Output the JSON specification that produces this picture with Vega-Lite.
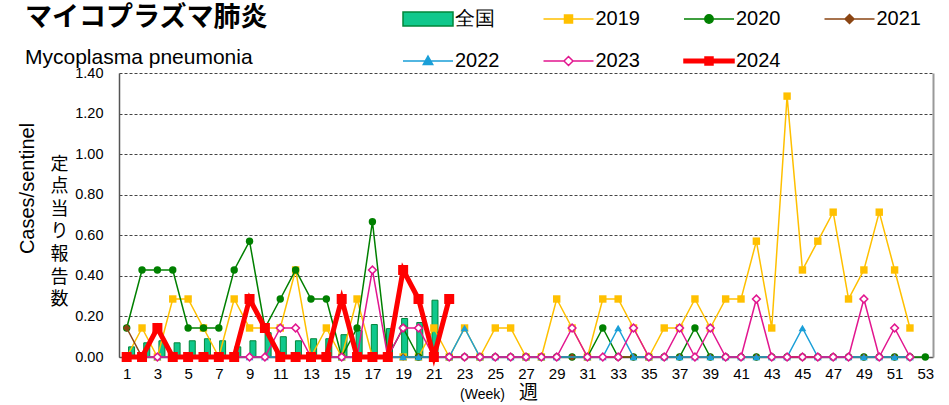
{
"$schema":"https://vega.github.io/schema/vega-lite/v6.json",
"width":814,"height":284,
"autosize":{"type":"none"},
"padding":{"left":119,"top":73,"right":16,"bottom":48},
"background":"white",
"config":{"view":{"stroke":null},"font":"Liberation Sans","axis":{"labelColor":"black","titleColor":"black","titleFontWeight":"normal"}},
"title":{"text":"マイコプラズマ肺炎","subtitle":"\u00a0Mycoplasma pneumonia","anchor":"start","frame":"group","dx":-94,"dy":67,"offset":6,"font":"Noto Sans CJK JP","fontSize":27,"fontWeight":"bold","color":"black","subtitleFont":"Liberation Sans","subtitleFontSize":21,"subtitleColor":"black","subtitlePadding":15},
"datasets":{
"series":[{"series":"全国"},{"series":"2019"},{"series":"2020"},{"series":"2021"},{"series":"2022"},{"series":"2023"},{"series":"2024"}],
"zenkoku":[{"week":1,"value":0.05},{"week":2,"value":0.07},{"week":3,"value":0.08},{"week":4,"value":0.07},{"week":5,"value":0.08},{"week":6,"value":0.09},{"week":7,"value":0.08},{"week":8,"value":0.05},{"week":9,"value":0.08},{"week":10,"value":0.12},{"week":11,"value":0.10},{"week":12,"value":0.08},{"week":13,"value":0.09},{"week":14,"value":0.09},{"week":15,"value":0.11},{"week":16,"value":0.13},{"week":17,"value":0.16},{"week":18,"value":0.14},{"week":19,"value":0.19},{"week":20,"value":0.17},{"week":21,"value":0.28}],
"y2019":[{"week":1,"value":0},{"week":2,"value":0.143},{"week":3,"value":0},{"week":4,"value":0.286},{"week":5,"value":0.286},{"week":6,"value":0.143},{"week":7,"value":0},{"week":8,"value":0.286},{"week":9,"value":0.143},{"week":10,"value":0.143},{"week":11,"value":0.143},{"week":12,"value":0.429},{"week":13,"value":0},{"week":14,"value":0.143},{"week":15,"value":0},{"week":16,"value":0.286},{"week":17,"value":0},{"week":18,"value":0},{"week":19,"value":0},{"week":20,"value":0},{"week":21,"value":0.143},{"week":22,"value":0},{"week":23,"value":0.143},{"week":24,"value":0},{"week":25,"value":0.143},{"week":26,"value":0.143},{"week":27,"value":0},{"week":28,"value":0},{"week":29,"value":0.286},{"week":30,"value":0.143},{"week":31,"value":0},{"week":32,"value":0.286},{"week":33,"value":0.286},{"week":34,"value":0.143},{"week":35,"value":0},{"week":36,"value":0.143},{"week":37,"value":0.143},{"week":38,"value":0.286},{"week":39,"value":0.143},{"week":40,"value":0.286},{"week":41,"value":0.286},{"week":42,"value":0.571},{"week":43,"value":0.143},{"week":44,"value":1.286},{"week":45,"value":0.429},{"week":46,"value":0.571},{"week":47,"value":0.714},{"week":48,"value":0.286},{"week":49,"value":0.429},{"week":50,"value":0.714},{"week":51,"value":0.429},{"week":52,"value":0.143}],
"y2020":[{"week":1,"value":0.143},{"week":2,"value":0.429},{"week":3,"value":0.429},{"week":4,"value":0.429},{"week":5,"value":0.143},{"week":6,"value":0.143},{"week":7,"value":0.143},{"week":8,"value":0.429},{"week":9,"value":0.571},{"week":10,"value":0.143},{"week":11,"value":0.286},{"week":12,"value":0.429},{"week":13,"value":0.286},{"week":14,"value":0.286},{"week":15,"value":0},{"week":16,"value":0.143},{"week":17,"value":0.667},{"week":18,"value":0},{"week":19,"value":0.143},{"week":20,"value":0},{"week":21,"value":0},{"week":22,"value":0},{"week":23,"value":0},{"week":24,"value":0},{"week":25,"value":0},{"week":26,"value":0},{"week":27,"value":0},{"week":28,"value":0},{"week":29,"value":0},{"week":30,"value":0},{"week":31,"value":0},{"week":32,"value":0.143},{"week":33,"value":0},{"week":34,"value":0},{"week":35,"value":0},{"week":36,"value":0},{"week":37,"value":0},{"week":38,"value":0.143},{"week":39,"value":0},{"week":40,"value":0},{"week":41,"value":0},{"week":42,"value":0},{"week":43,"value":0},{"week":44,"value":0},{"week":45,"value":0},{"week":46,"value":0},{"week":47,"value":0},{"week":48,"value":0},{"week":49,"value":0},{"week":50,"value":0},{"week":51,"value":0},{"week":52,"value":0},{"week":53,"value":0}],
"y2021":[{"week":1,"value":0.143},{"week":2,"value":0},{"week":3,"value":0},{"week":4,"value":0},{"week":5,"value":0},{"week":6,"value":0},{"week":7,"value":0},{"week":8,"value":0},{"week":9,"value":0},{"week":10,"value":0},{"week":11,"value":0},{"week":12,"value":0},{"week":13,"value":0},{"week":14,"value":0},{"week":15,"value":0},{"week":16,"value":0},{"week":17,"value":0},{"week":18,"value":0},{"week":19,"value":0},{"week":20,"value":0},{"week":21,"value":0},{"week":22,"value":0},{"week":23,"value":0},{"week":24,"value":0},{"week":25,"value":0},{"week":26,"value":0},{"week":27,"value":0},{"week":28,"value":0},{"week":29,"value":0},{"week":30,"value":0},{"week":31,"value":0},{"week":32,"value":0},{"week":33,"value":0},{"week":34,"value":0},{"week":35,"value":0},{"week":36,"value":0},{"week":37,"value":0},{"week":38,"value":0},{"week":39,"value":0},{"week":40,"value":0},{"week":41,"value":0},{"week":42,"value":0},{"week":43,"value":0},{"week":44,"value":0},{"week":45,"value":0},{"week":46,"value":0},{"week":47,"value":0},{"week":48,"value":0},{"week":49,"value":0},{"week":50,"value":0},{"week":51,"value":0},{"week":52,"value":0}],
"y2022":[{"week":1,"value":0},{"week":2,"value":0},{"week":3,"value":0},{"week":4,"value":0},{"week":5,"value":0},{"week":6,"value":0},{"week":7,"value":0},{"week":8,"value":0},{"week":9,"value":0},{"week":10,"value":0},{"week":11,"value":0},{"week":12,"value":0},{"week":13,"value":0},{"week":14,"value":0},{"week":15,"value":0},{"week":16,"value":0},{"week":17,"value":0},{"week":18,"value":0},{"week":19,"value":0},{"week":20,"value":0},{"week":21,"value":0},{"week":22,"value":0},{"week":23,"value":0.143},{"week":24,"value":0},{"week":25,"value":0},{"week":26,"value":0},{"week":27,"value":0},{"week":28,"value":0},{"week":29,"value":0},{"week":31,"value":0},{"week":32,"value":0},{"week":33,"value":0.143},{"week":34,"value":0},{"week":35,"value":0},{"week":36,"value":0},{"week":37,"value":0},{"week":38,"value":0},{"week":39,"value":0},{"week":40,"value":0},{"week":41,"value":0},{"week":42,"value":0},{"week":43,"value":0},{"week":44,"value":0},{"week":45,"value":0.143},{"week":46,"value":0},{"week":47,"value":0},{"week":48,"value":0},{"week":49,"value":0},{"week":50,"value":0},{"week":51,"value":0},{"week":52,"value":0}],
"y2023":[{"week":1,"value":0},{"week":2,"value":0},{"week":3,"value":0},{"week":4,"value":0},{"week":5,"value":0},{"week":6,"value":0},{"week":7,"value":0},{"week":8,"value":0},{"week":9,"value":0},{"week":10,"value":0},{"week":11,"value":0.143},{"week":12,"value":0.143},{"week":13,"value":0},{"week":14,"value":0},{"week":15,"value":0},{"week":16,"value":0},{"week":17,"value":0.429},{"week":18,"value":0},{"week":19,"value":0.143},{"week":20,"value":0.143},{"week":21,"value":0},{"week":22,"value":0},{"week":23,"value":0},{"week":24,"value":0},{"week":25,"value":0},{"week":26,"value":0},{"week":27,"value":0},{"week":28,"value":0},{"week":29,"value":0},{"week":30,"value":0.143},{"week":31,"value":0},{"week":32,"value":0},{"week":33,"value":0},{"week":34,"value":0.143},{"week":35,"value":0},{"week":36,"value":0},{"week":37,"value":0.143},{"week":38,"value":0},{"week":39,"value":0.143},{"week":40,"value":0},{"week":41,"value":0},{"week":42,"value":0.286},{"week":43,"value":0},{"week":44,"value":0},{"week":45,"value":0},{"week":46,"value":0},{"week":47,"value":0},{"week":48,"value":0},{"week":49,"value":0.286},{"week":50,"value":0},{"week":51,"value":0.143},{"week":52,"value":0}],
"y2024":[{"week":1,"value":0},{"week":2,"value":0},{"week":3,"value":0.143},{"week":4,"value":0},{"week":5,"value":0},{"week":6,"value":0},{"week":7,"value":0},{"week":8,"value":0},{"week":9,"value":0.286},{"week":10,"value":0.143},{"week":11,"value":0},{"week":12,"value":0},{"week":13,"value":0},{"week":14,"value":0},{"week":15,"value":0.286},{"week":16,"value":0},{"week":17,"value":0},{"week":18,"value":0},{"week":19,"value":0.429},{"week":20,"value":0.286},{"week":21,"value":0},{"week":22,"value":0.286}]
},
"layer":[
{
"data":{"name":"zenkoku"},
"mark":{"type":"bar","width":6,"stroke":"#00863A","strokeWidth":1},
"encoding":{
"x":{"field":"week","type":"quantitative","scale":{"domain":[0.5,53.5],"nice":false,"zero":false},"axis":{"orient":"bottom","labels":false,"ticks":false,"domain":false,"grid":false,"title":"(Week)","titleFontSize":14,"titleX":363,"titleY":30,"titleBaseline":"top","titleAlign":"center"}},
"y":{"field":"value","type":"quantitative","scale":{"domain":[0,1.4],"nice":false},"axis":{"orient":"right","labels":false,"ticks":false,"grid":false,"domainColor":"#999999","domainWidth":2,"title":["定","点","当","り","報","告","数"],"titleFont":"Noto Sans CJK JP","titleFontSize":18,"titleLineHeight":22.6,"titleAngle":0,"titleAlign":"center","titleBaseline":"top","titleX":-874,"titleY":82}},
"color":{"datum":"全国","type":"nominal","scale":{"domain":["2019","2020","2021","2022","2023","2024","全国"],"range":["#FFC000","#008000","#8B4513","#1A9FD8","#E2168F","#FF0000","#10C88C"]},"legend":null}
}
},
{
"encoding":{
"x":{"field":"week","type":"quantitative","scale":{"domain":[0.5,53.5],"nice":false,"zero":false},"axis":{"orient":"bottom","values":[1,3,5,7,9,11,13,15,17,19,21,23,25,27,29,31,33,35,37,39,41,43,45,47,49,51,53],"format":"d","labelFontSize":15,"labelPadding":9,"ticks":false,"tickSize":0,"grid":false,"labelFlush":false,"labelOverlap":false,"domainColor":"#555555","domainWidth":1.5,"title":"週","titleFont":"Noto Sans CJK JP","titleFontSize":19,"titleX":409,"titleY":26,"titleBaseline":"top","titleAlign":"center"}},
"y":{"field":"value","type":"quantitative","scale":{"domain":[0,1.4],"nice":false},"axis":{"orient":"left","values":[0,0.2,0.4,0.6,0.8,1.0,1.2,1.4],"format":".2f","labelFontSize":14.5,"labelPadding":16,"ticks":false,"tickSize":0,"grid":true,"gridColor":"#444444","gridDash":[3,2],"gridWidth":1,"domainColor":"#555555","domainWidth":1.5,"title":"Cases/sentinel","titleFontSize":20,"titleAngle":-90,"titleX":-92,"titleY":115,"titleAlign":"center","titleBaseline":"middle"}}
},
"layer":[
{"data":{"name":"y2019"},"mark":{"type":"line","strokeWidth":1.5,"point":{"shape":"square","size":55,"filled":true}},"encoding":{"color":{"datum":"2019","type":"nominal","legend":null}}},
{"data":{"name":"y2020"},"mark":{"type":"line","strokeWidth":1.5,"point":{"shape":"circle","size":55,"filled":true}},"encoding":{"color":{"datum":"2020","type":"nominal","legend":null}}},
{"data":{"name":"y2021"},"mark":{"type":"line","strokeWidth":1.5,"point":{"shape":"diamond","size":55,"filled":true}},"encoding":{"color":{"datum":"2021","type":"nominal","legend":null}}},
{"data":{"name":"y2022"},"mark":{"type":"line","strokeWidth":1.5,"point":{"shape":"triangle-up","size":60,"filled":true}},"encoding":{"color":{"datum":"2022","type":"nominal","legend":null}}},
{"data":{"name":"y2023"},"mark":{"type":"line","strokeWidth":1.5,"point":{"shape":"diamond","size":60,"filled":false,"fill":"white","strokeWidth":1.5}},"encoding":{"color":{"datum":"2023","type":"nominal","legend":null}}},
{"data":{"name":"y2024"},"mark":{"type":"line","strokeWidth":5,"point":{"shape":"square","size":100,"filled":true}},"encoding":{"color":{"datum":"2024","type":"nominal","legend":null}}}
]
},
{
"data":{"name":"series"},
"mark":{"type":"point","filled":true,"opacity":0},
"encoding":{
"shape":{"field":"series","type":"nominal","scale":{"domain":["全国","2019","2020","2021","2022","2023","2024"],"range":["M-2.5,-0.7H2.5V0.7H-2.5Z","M-2.5,0H2.5M-0.4,-0.4H0.4V0.4H-0.4Z","M-2.5,0H2.5M-0.42,0A0.42,0.42,0,1,0,0.42,0A0.42,0.42,0,1,0,-0.42,0Z","M-2.5,0H2.5M0,-0.45L0.45,0L0,0.45L-0.45,0Z","M-2.5,0H2.5M0,-0.5L0.47,0.35H-0.47Z","M-2.5,0H-0.45M0.45,0H2.5M0,-0.45L0.45,0L0,0.45L-0.45,0Z","M-2.5,-0.18H2.5V0.18H-2.5ZM-0.4,-0.4H0.4V0.4H-0.4Z"]},
"legend":{"title":null,"orient":"none","legendX":283,"legendY":-65,"direction":"horizontal","columns":4,"columnPadding":40.5,"rowPadding":21,"labelFontSize":20,"labelFont":"Liberation Sans","labelColor":"black","labelOffset":16,"symbolOffset":15,"symbolSize":400,"padding":0,"symbolOpacity":1,"symbolStrokeWidth":1.5}},
"fill":{"field":"series","type":"nominal","scale":{"domain":["全国","2019","2020","2021","2022","2023","2024"],"range":["#10C88C","#FFC000","#008000","#8B4513","#1A9FD8","#FFFFFF","#FF0000"]},
"legend":{"title":null,"orient":"none","legendX":283,"legendY":-65,"direction":"horizontal","columns":4,"columnPadding":40.5,"rowPadding":21,"labelFontSize":20,"labelFont":"Liberation Sans","labelColor":"black","labelOffset":16,"symbolOffset":15,"symbolSize":400,"padding":0,"symbolOpacity":1,"symbolStrokeWidth":1.5}},
"stroke":{"field":"series","type":"nominal","scale":{"domain":["全国","2019","2020","2021","2022","2023","2024"],"range":["#00863A","#FFC000","#008000","#8B4513","#1A9FD8","#E2168F","#FF0000"]},
"legend":{"title":null,"orient":"none","legendX":283,"legendY":-65,"direction":"horizontal","columns":4,"columnPadding":40.5,"rowPadding":21,"labelFontSize":20,"labelFont":"Liberation Sans","labelColor":"black","labelOffset":16,"symbolOffset":15,"symbolSize":400,"padding":0,"symbolOpacity":1,"symbolStrokeWidth":1.5}}
}
}
],
"resolve":{"scale":{"x":"independent","y":"independent"}}
}
